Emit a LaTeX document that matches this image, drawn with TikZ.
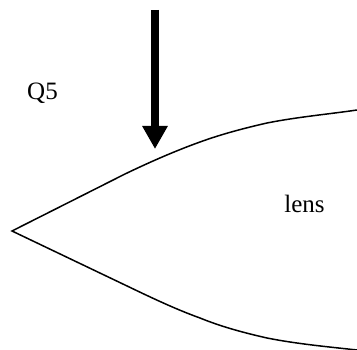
\documentclass[tikz,border=0pt]{standalone}
\usepackage{fontspec}
\setmainfont{Liberation Serif}
\usetikzlibrary{arrows.meta,positioning}
\tikzset{labeltext/.style={font=\fontsize{25}{28}\selectfont,inner sep=0pt,anchor=base}}
\begin{document}
\begin{tikzpicture}[x=1pt,y=-1pt]
\useasboundingbox (0,0) rectangle (357,350);
\draw[line width=1.5pt] (357,110) .. controls (330,114) and (297,117) .. (267,123) .. controls (245,128) and (222,134) .. (200,142) .. controls (175,151) and (150,162) .. (125,174) -- (12,231) -- (125,285) .. controls (150,297) and (175,309) .. (200,318) .. controls (222,327) and (245,333) .. (267,338) .. controls (297,344) and (330,347) .. (357,350);
\draw[line width=8pt,-{Triangle[length=23pt,width=24pt]}] (155,10)--(155,149);
\node[labeltext] (questionlabel) at (42.5,100) {Q5};
\node[labeltext] (lenslabel) at (304.5,213) {lens};
\end{tikzpicture}
\end{document}
